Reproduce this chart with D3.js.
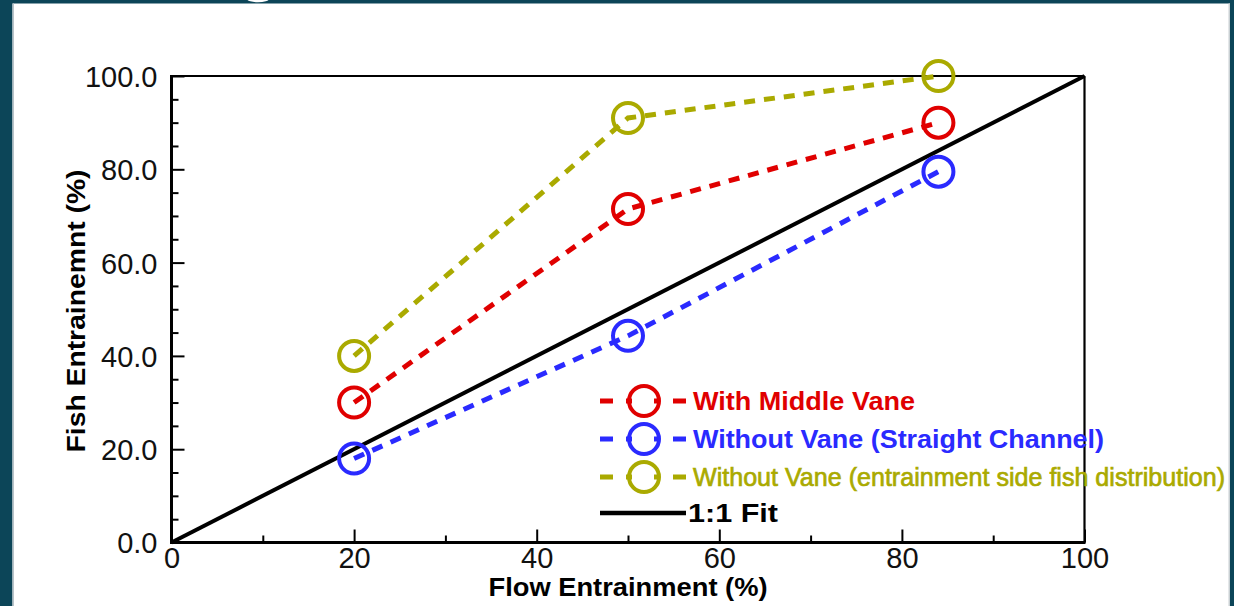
<!DOCTYPE html>
<html>
<head>
<meta charset="utf-8">
<script src="https://cdn.jsdelivr.net/npm/d3@7"></script>
<style>
  html, body { margin: 0; padding: 0; background: #ffffff; }
  svg { display: block; }
  text { font-family: "Liberation Sans", Arial, sans-serif; }
</style>
</head>
<body>
<svg id="chart" width="1234" height="606"></svg>
<script>
// ---- data ----
const flowEntrainment = [20, 50, 84];
const withMiddleVane = [30, 71.5, 90];
const withoutVaneStraight = [18, 44.3, 79.5];
const withoutVaneSide = [40, 91, 100];
const fitLine = [0, 100];
const seriesNames = [
  "With Middle Vane",
  "Without Vane (Straight Channel)",
  "Without Vane (entrainment side fish distribution)"
];
const fitName = "1:1 Fit";
const xMajorTicks = [0, 20, 40, 60, 80, 100];
const xMinorTicks = [10, 30, 50, 70, 90];
const yMajorTicks = [0, 20, 40, 60, 80, 100];
const yMinorTicks = [5, 10, 15, 25, 30, 35, 45, 50, 55, 65, 70, 75, 85, 90, 95];
const xTitle = "Flow Entrainment (%)";
const yTitle = "Fish Entrainemnt (%)";

// ---- layout ----
const svg = d3.select("#chart");
const L = 171.5, R = 1084.5, T = 76, B = 542.5;
const x = d3.scaleLinear().domain([0, 100]).range([L, R]);
const y = d3.scaleLinear().domain([0, 100]).range([B, T]);
const teal = "#0c4558";
const colors = ["#e00000", "#2a2aff", "#aaaa00"];

// frame of the slide
svg.append("rect").attr("x", 0).attr("y", 0).attr("width", 1234).attr("height", 606).attr("fill", "#fff");
svg.append("rect").attr("x", 0).attr("y", 0).attr("width", 1234).attr("height", 3.5).attr("fill", teal);
svg.append("rect").attr("x", 0).attr("y", 0).attr("width", 12.5).attr("height", 606).attr("fill", teal);
svg.append("rect").attr("x", 12.5).attr("y", 3.5).attr("width", 1.5).attr("height", 606).attr("fill", "#b9c4c9");
svg.append("rect").attr("x", 1230).attr("y", 0).attr("width", 4).attr("height", 606).attr("fill", teal);
svg.append("rect").attr("x", 1228.5).attr("y", 3.5).attr("width", 1.5).attr("height", 606).attr("fill", "#c9d0d3");
svg.append("ellipse").attr("cx", 258).attr("cy", -1).attr("rx", 11).attr("ry", 3.2).attr("fill", "#ffffff");

// ---- axes ----
const fontSz = 29;
const gx = svg.append("g").attr("transform", `translate(0,${B})`)
  .call(d3.axisBottom(x).tickValues(xMajorTicks).tickSize(-13).tickPadding(5).tickFormat(d3.format("d")));
const gxm = svg.append("g").attr("transform", `translate(0,${B})`)
  .call(d3.axisBottom(x).tickValues(xMinorTicks).tickSize(-7).tickFormat(""));
const gy = svg.append("g").attr("transform", `translate(${L},0)`)
  .call(d3.axisLeft(y).tickValues(yMajorTicks).tickSize(-13).tickPadding(14).tickFormat(d3.format(".1f")));
const gym = svg.append("g").attr("transform", `translate(${L},0)`)
  .call(d3.axisLeft(y).tickValues(yMinorTicks).tickSize(-7).tickFormat(""));
[gx, gxm, gy, gym].forEach(g => {
  g.select(".domain").remove();
  g.selectAll(".tick line").attr("stroke", "#000").attr("stroke-width", 2);
  g.selectAll(".tick text").attr("fill", "#111").style("font-size", fontSz + "px")
    .style("font-family", '"Liberation Sans", Arial, sans-serif');
});
gy.selectAll(".tick text").attr("dy", "0.36em");

// box
svg.append("line").attr("x1", L).attr("x2", R).attr("y1", T).attr("y2", T).attr("stroke", "#000").attr("stroke-width", 2.2);
svg.append("line").attr("x1", R).attr("x2", R).attr("y1", T).attr("y2", B).attr("stroke", "#000").attr("stroke-width", 2.2);
svg.append("line").attr("x1", L).attr("x2", R + 1).attr("y1", B).attr("y2", B).attr("stroke", "#000").attr("stroke-width", 3);
svg.append("line").attr("x1", L).attr("x2", L).attr("y1", T - 1).attr("y2", B + 1.5).attr("stroke", "#000").attr("stroke-width", 3);

// axis titles
svg.append("text").attr("x", (L + R) / 2 + 0).attr("y", 596)
  .attr("text-anchor", "middle").attr("font-weight", "bold").attr("font-size", 26)
  .attr("textLength", 279).attr("lengthAdjust", "spacingAndGlyphs").attr("fill", "#000")
  .text(xTitle);
svg.append("text").attr("transform", "translate(85,311) rotate(-90)")
  .attr("text-anchor", "middle").attr("font-weight", "bold").attr("font-size", 26)
  .attr("textLength", 283).attr("lengthAdjust", "spacingAndGlyphs").attr("fill", "#000")
  .text(yTitle);

// ---- 1:1 line ----
const line = d3.line().x(d => x(d[0])).y(d => y(d[1]));
svg.append("path").datum(fitLine.map(v => [v, v])).attr("d", line)
  .attr("fill", "none").attr("stroke", "#000").attr("stroke-width", 4);

// ---- series ----
const allSeries = [withMiddleVane, withoutVaneStraight, withoutVaneSide];
allSeries.forEach((vals, i) => {
  const pts = flowEntrainment.map((f, j) => [f, vals[j]]);
  svg.append("path").datum(pts).attr("d", line)
    .attr("fill", "none").attr("stroke", colors[i]).attr("stroke-width", 5)
    .attr("stroke-dasharray", "11,9");
  svg.selectAll(null).data(pts).enter().append("circle")
    .attr("cx", d => x(d[0])).attr("cy", d => y(d[1])).attr("r", 15)
    .attr("fill", "none").attr("stroke", colors[i]).attr("stroke-width", 4);
});

// ---- legend ----
const legRows = [401, 439, 477];
const legWidths = [222, 411, 532];
const legWeights = ["bold", "bold", "normal"];
const legSizes = [25, 25, 26];
const legStroke = [0, 0, 0.7];
seriesNames.forEach((name, i) => {
  const yy = legRows[i];
  svg.append("line").attr("x1", 600).attr("x2", 686).attr("y1", yy).attr("y2", yy)
    .attr("stroke", colors[i]).attr("stroke-width", 5)
    .attr("stroke-dasharray", "13,13,6,22,6,13,13");
  svg.append("circle").attr("cx", 644).attr("cy", yy).attr("r", 15)
    .attr("fill", "none").attr("stroke", colors[i]).attr("stroke-width", 4);
  const t = svg.append("text").attr("x", 693).attr("y", yy).attr("dy", "0.35em")
    .attr("font-size", legSizes[i]).attr("font-weight", legWeights[i]).attr("fill", colors[i])
    .attr("textLength", legWidths[i]).attr("lengthAdjust", "spacingAndGlyphs")
    .text(name);
  if (legStroke[i] > 0) t.attr("stroke", colors[i]).attr("stroke-width", legStroke[i]);
});
svg.append("line").attr("x1", 600).attr("x2", 686).attr("y1", 513).attr("y2", 513)
  .attr("stroke", "#000").attr("stroke-width", 4.5);
svg.append("text").attr("x", 688).attr("y", 513).attr("dy", "0.35em")
  .attr("font-size", 25).attr("font-weight", "bold").attr("fill", "#000")
  .attr("textLength", 90).attr("lengthAdjust", "spacingAndGlyphs")
  .text(fitName);
</script>
</body>
</html>
